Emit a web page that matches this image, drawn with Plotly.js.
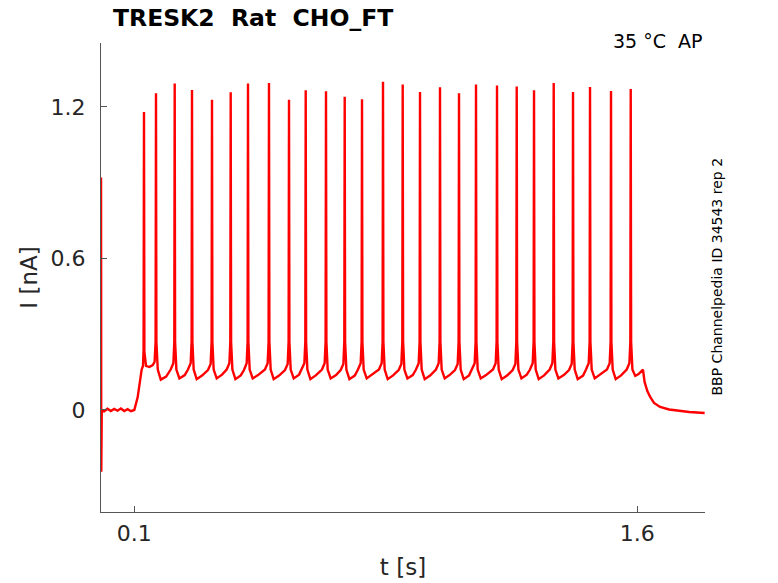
<!DOCTYPE html>
<html>
<head>
<meta charset="utf-8">
<script src="https://cdn.plot.ly/plotly-3.0.1.min.js"></script>
<style>
  html, body { margin: 0; padding: 0; background: #fff; }
  #plot { width: 778px; height: 583px; }
</style>
</head>
<body>
<div id="plot"></div>
<script>
// trace: time [s] and current [nA]
const t_s = [
    0.000, 0.0008, 0.0015, 0.003, 0.010, 0.020, 0.030, 0.040, 0.050, 0.060, 0.070, 0.080, 0.090, 0.100,
    0.110, 0.122, 0.126,
    0.1277, 0.1289, 0.1301, 0.135, 0.145, 0.155, 0.1605,
    0.1635, 0.1647, 0.1659, 0.170, 0.179, 0.195,
    0.2085, 0.2165, 0.2193, 0.2205, 0.2217, 0.2255, 0.2345, 0.2505,
    0.2601, 0.2681, 0.2709, 0.2721, 0.2733, 0.2771, 0.2861, 0.3021,
    0.3197, 0.3277, 0.3305, 0.3317, 0.3329, 0.3367, 0.3457, 0.3617,
    0.3755, 0.3835, 0.3863, 0.3875, 0.3887, 0.3925, 0.4015, 0.4175,
    0.4271, 0.4351, 0.4379, 0.4391, 0.4403, 0.4441, 0.4531, 0.4691,
    0.4897, 0.4977, 0.5005, 0.5017, 0.5029, 0.5067, 0.5157, 0.5317,
    0.5494, 0.5574, 0.5602, 0.5614, 0.5626, 0.5664, 0.5754, 0.5914,
    0.5992, 0.6072, 0.6100, 0.6112, 0.6124, 0.6162, 0.6252, 0.6412,
    0.6597, 0.6677, 0.6705, 0.6717, 0.6729, 0.6767, 0.6857, 0.7017,
    0.7155, 0.7235, 0.7263, 0.7275, 0.7287, 0.7325, 0.7415, 0.7575,
    0.7671, 0.7751, 0.7779, 0.7791, 0.7803, 0.7841, 0.7931, 0.8091,
    0.8297, 0.8377, 0.8405, 0.8417, 0.8429, 0.8467, 0.8557, 0.8717,
    0.8885, 0.8965, 0.8993, 0.9005, 0.9017, 0.9055, 0.9145, 0.9305,
    0.9401, 0.9481, 0.9509, 0.9521, 0.9533, 0.9571, 0.9661, 0.9821,
    0.9997, 1.0077, 1.0105, 1.0117, 1.0129, 1.0167, 1.0257, 1.0417,
    1.0564, 1.0644, 1.0672, 1.0684, 1.0696, 1.0734, 1.0824, 1.0984,
    1.1071, 1.1151, 1.1179, 1.1191, 1.1203, 1.1241, 1.1331, 1.1491,
    1.1697, 1.1777, 1.1805, 1.1817, 1.1829, 1.1867, 1.1957, 1.2117,
    1.2285, 1.2365, 1.2393, 1.2405, 1.2417, 1.2455, 1.2545, 1.2705,
    1.2801, 1.2881, 1.2909, 1.2921, 1.2933, 1.2971, 1.3061, 1.3221,
    1.3388, 1.3468, 1.3496, 1.3508, 1.3520, 1.3558, 1.3648, 1.3808,
    1.3964, 1.4044, 1.4072, 1.4084, 1.4096, 1.4134, 1.4224, 1.4384,
    1.4471, 1.4551, 1.4579, 1.4591, 1.4603, 1.4641, 1.4731, 1.4891,
    1.5097, 1.5177, 1.5205, 1.5217, 1.5229, 1.5267, 1.5357, 1.5517,
    1.5685, 1.5765, 1.5793, 1.5805, 1.5817, 1.5855, 1.594, 1.604, 1.612, 1.617,
    1.622, 1.630, 1.638, 1.650, 1.668, 1.695, 1.719, 1.755, 1.801
];
const i_nA = [
    0.000, 0.920, -0.245, 0.000, -0.005, 0.005, -0.004, 0.004, -0.003, 0.006, -0.004, 0.003, -0.005, 0.000,
    0.050, 0.160, 0.175,
    0.240, 1.180, 0.230, 0.175, 0.170, 0.178, 0.190,
    0.270, 1.254, 0.270, 0.160, 0.120, 0.132,
    0.160, 0.185, 0.270, 1.293, 0.270, 0.160, 0.125, 0.138,
    0.160, 0.185, 0.270, 1.267, 0.270, 0.160, 0.122, 0.136,
    0.158, 0.182, 0.270, 1.228, 0.270, 0.160, 0.125, 0.140,
    0.160, 0.185, 0.270, 1.258, 0.270, 0.160, 0.122, 0.137,
    0.158, 0.185, 0.270, 1.293, 0.270, 0.160, 0.125, 0.138,
    0.160, 0.185, 0.270, 1.295, 0.270, 0.160, 0.122, 0.136,
    0.158, 0.182, 0.270, 1.228, 0.270, 0.160, 0.125, 0.140,
    0.160, 0.185, 0.270, 1.266, 0.270, 0.160, 0.122, 0.137,
    0.160, 0.185, 0.270, 1.262, 0.270, 0.160, 0.125, 0.138,
    0.158, 0.182, 0.270, 1.240, 0.270, 0.160, 0.122, 0.136,
    0.160, 0.185, 0.270, 1.230, 0.270, 0.160, 0.125, 0.140,
    0.160, 0.185, 0.270, 1.300, 0.270, 0.160, 0.122, 0.137,
    0.158, 0.182, 0.270, 1.289, 0.270, 0.160, 0.125, 0.138,
    0.160, 0.185, 0.270, 1.259, 0.270, 0.160, 0.122, 0.136,
    0.160, 0.185, 0.270, 1.278, 0.270, 0.160, 0.125, 0.140,
    0.158, 0.182, 0.270, 1.254, 0.270, 0.160, 0.122, 0.137,
    0.160, 0.185, 0.270, 1.289, 0.270, 0.160, 0.125, 0.138,
    0.160, 0.185, 0.270, 1.285, 0.270, 0.160, 0.122, 0.136,
    0.158, 0.182, 0.270, 1.281, 0.270, 0.160, 0.125, 0.140,
    0.160, 0.185, 0.270, 1.266, 0.270, 0.160, 0.122, 0.137,
    0.160, 0.185, 0.270, 1.295, 0.270, 0.160, 0.125, 0.138,
    0.158, 0.182, 0.270, 1.259, 0.270, 0.160, 0.122, 0.136,
    0.160, 0.185, 0.270, 1.279, 0.270, 0.160, 0.125, 0.140,
    0.160, 0.185, 0.270, 1.263, 0.270, 0.160, 0.122, 0.137,
    0.160, 0.185, 0.270, 1.271, 0.270, 0.160, 0.135, 0.142, 0.155, 0.160,
    0.110, 0.075, 0.053, 0.028, 0.012, 0.002, -0.002, -0.008, -0.012
];

const x_ticks = [0.1, 1.6];
const x_tick_labels = ["0.1", "1.6"];
const y_ticks = [0, 0.6, 1.2];
const y_tick_labels = ["0", "0.6", "1.2"];

const title_text = "TRESK2\u00a0\u00a0Rat\u00a0\u00a0CHO_FT";
const corner_text = "35 °C\u00a0\u00a0AP";
const side_text = "BBP Channelpedia ID 34543 rep 2";

const font_family = "DejaVu Sans, sans-serif";
const axis_color = "#555555";
const text_color = "#262626";

let data = [{
    x: t_s,
    y: i_nA,
    mode: "lines",
    line: {color: "#ff0000", width: 2.4},
    hoverinfo: "skip",
}];

let layout = {
    width: 778,
    height: 583,
    margin: {l: 101, r: 73, t: 43, b: 71},
    paper_bgcolor: "#ffffff",
    plot_bgcolor: "#ffffff",
    showlegend: false,
    font: {family: font_family, color: text_color},
    title: {
        text: "<b>" + title_text + "</b>",
        font: {family: font_family, size: 23.5, color: "#000000"},
        xref: "container", yref: "container",
        x: 113 / 778, xanchor: "left",
        y: 1 - 18 / 583, yanchor: "middle",
    },
    xaxis: {
        range: [0.0007, 1.802],
        tickmode: "array",
        tickvals: x_ticks,
        ticktext: x_tick_labels,
        ticks: "inside",
        ticklen: 6,
        tickcolor: axis_color,
        tickfont: {size: 22, color: text_color},
        ticklabelstandoff: 2,
        showline: true,
        linecolor: axis_color,
        linewidth: 1,
        showgrid: false,
        zeroline: false,
        mirror: false,
        title: {text: "t [s]", font: {size: 23, color: text_color}, standoff: 13},
    },
    yaxis: {
        range: [-0.404, 1.453],
        tickmode: "array",
        tickvals: y_ticks,
        ticktext: y_tick_labels,
        ticks: "inside",
        ticklen: 6,
        tickcolor: axis_color,
        tickfont: {size: 22, color: text_color},
        ticklabelstandoff: 10,
        showline: true,
        linecolor: axis_color,
        linewidth: 1,
        showgrid: false,
        zeroline: false,
        mirror: false,
        title: {text: "I [nA]", font: {size: 23, color: text_color}, standoff: 6},
    },
    annotations: [
        {
            text: corner_text,
            xref: "paper", yref: "paper",
            x: 1, xanchor: "right", xshift: 0,
            y: 1, yanchor: "middle", yshift: 2,
            showarrow: false,
            font: {size: 19, color: "#000000"},
        },
        {
            text: side_text,
            xref: "paper", yref: "paper",
            x: 1, xanchor: "left", xshift: 1,
            y: 0.5, yanchor: "middle", yshift: 1,
            textangle: -90,
            showarrow: false,
            font: {size: 14, color: "#000000"},
        },
    ],
};

Plotly.newPlot("plot", data, layout, {staticPlot: true});
</script>
</body>
</html>
